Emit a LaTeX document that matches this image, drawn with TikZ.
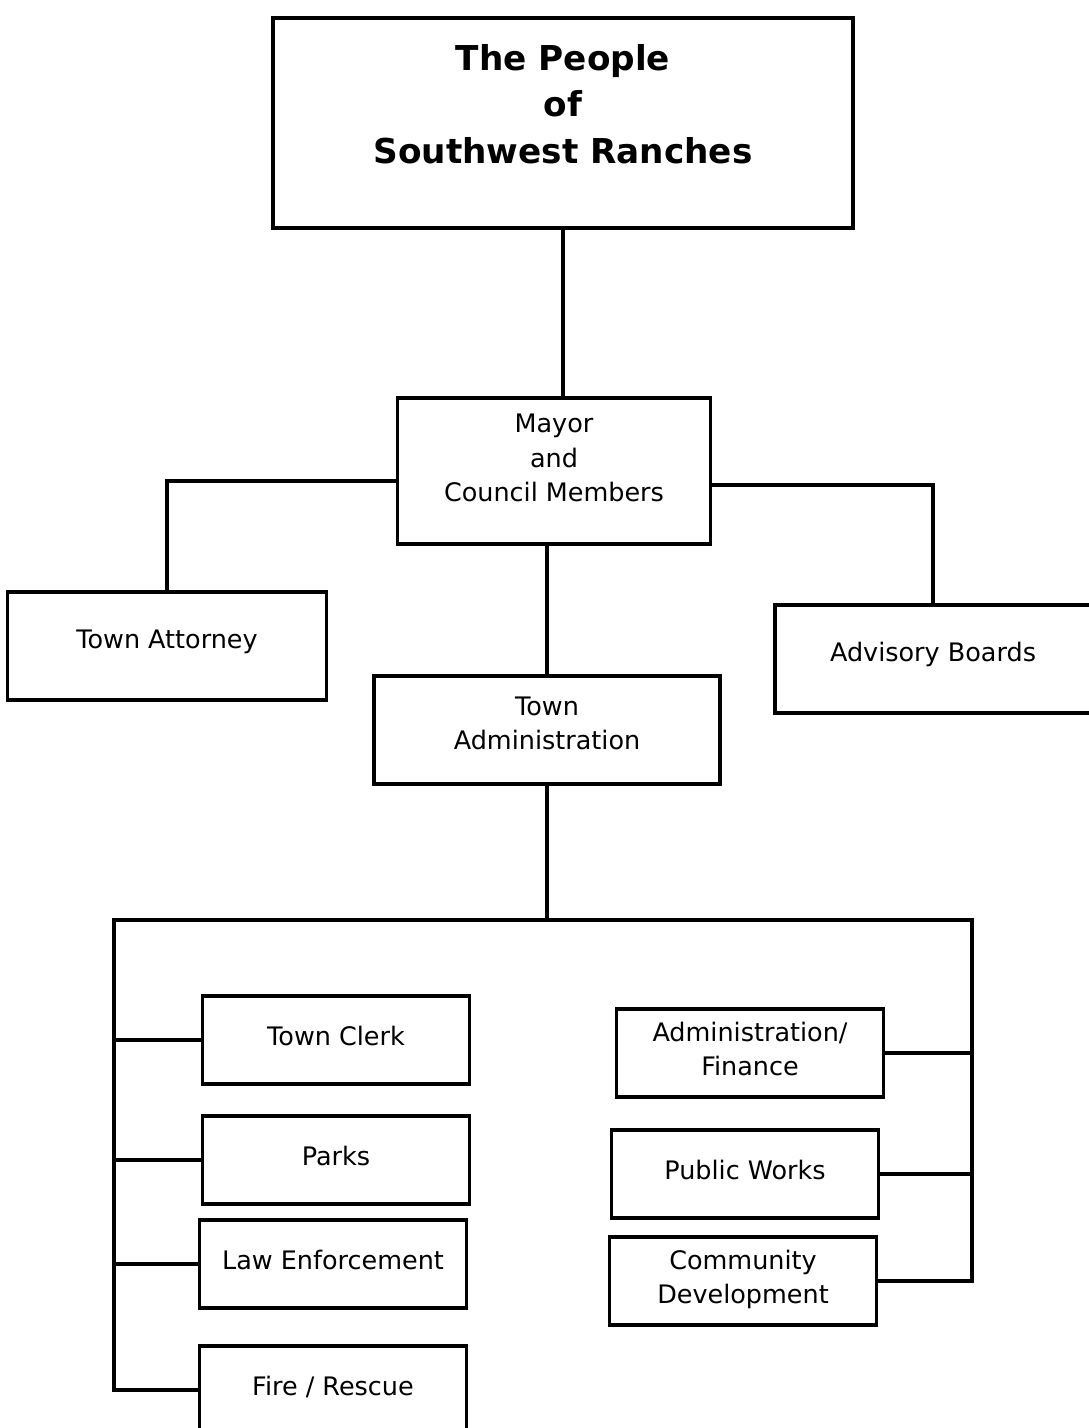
\documentclass[tikz,border=0pt]{standalone}
\usepackage{fontspec}
\setmainfont{DejaVu Sans}
\usepackage{tikz}
\usetikzlibrary{positioning,calc}
\tikzset{
  orgbox/.style={rectangle,draw=black,line width=2.2pt,align=center,inner sep=2pt,
    text depth=8pt,font=\fontsize{14.5}{19.5}\selectfont},
  topbox/.style={orgbox,minimum width=11.6cm,minimum height=4.2cm,text depth=22pt,
    font=\fontsize{19.5}{26.5}\selectfont\bfseries},
  unitbox/.style={orgbox,minimum width=5.34cm,minimum height=1.75cm,text depth=4.5pt},
  link/.style={line width=2.2pt}
}
\begin{document}
\begin{tikzpicture}[x=0.02cm,y=-0.02cm]
  \useasboundingbox (0,0) rectangle (1089,1428);
  \clip (0,0) rectangle (1089,1428);
  % top of the chart
  \node[topbox] (people) at (563,123) {The People\\of\\Southwest Ranches};
  \node[orgbox,minimum width=6.26cm,minimum height=2.92cm,text depth=15pt] (mayor) at (554,471) {Mayor\\and\\Council Members};
  \node[orgbox,minimum width=6.38cm,minimum height=2.16cm] (attorney) at (167,646) {Town Attorney};
  \node[orgbox,minimum width=6.32cm,minimum height=2.16cm] (advisory) at (933,659) {Advisory Boards};
  \node[orgbox,minimum width=6.92cm,minimum height=2.16cm] (admin) at (547,730) {Town\\Administration};
  % departments
  \node[unitbox] (clerk) at (336,1040) {Town Clerk};
  \node[unitbox] (parks) at (336,1160) {Parks};
  \node[unitbox] (law) at (333,1264) {Law Enforcement};
  \node[unitbox] (fire) at (333,1390) {Fire / Rescue};
  \node[unitbox] (finance) at (750,1053) {Administration/\\Finance};
  \node[unitbox] (works) at (745,1174) {Public Works};
  \node[unitbox] (community) at (743,1281) {Community\\Development};
  \coordinate (bleft) at (114,920);
  \coordinate (bright) at (972,920);
  % connectors
  \draw[link] (people.south) -- (people.south |- mayor.north);
  \draw[link] ([yshift=-0.2cm]mayor.west) -| (attorney.north);
  \draw[link] ([yshift=-0.28cm]mayor.east) -| (advisory.north);
  \draw[link] (mayor.south -| admin.north) -- (admin.north);
  \draw[link] (admin.south) -- (admin.south |- bleft);
  \draw[link] (fire.west) -| (bleft) -- (bright) |- (community.east);
  \draw[link] (clerk.west) -- (clerk.west -| bleft);
  \draw[link] (parks.west) -- (parks.west -| bleft);
  \draw[link] (law.west) -- (law.west -| bleft);
  \draw[link] (finance.east) -- (finance.east -| bright);
  \draw[link] (works.east) -- (works.east -| bright);
\end{tikzpicture}
\end{document}
